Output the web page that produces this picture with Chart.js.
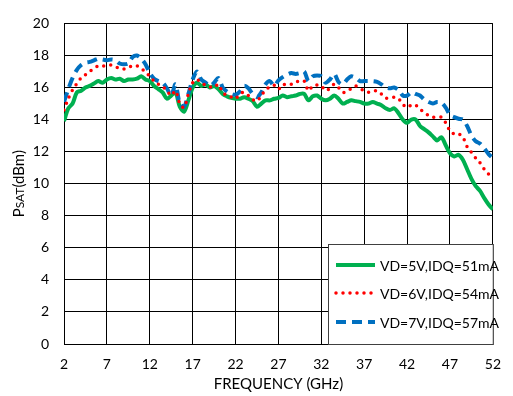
<!DOCTYPE html>
<html>
<head>
<meta charset="utf-8">
<script src="https://cdn.jsdelivr.net/npm/chart.js@4.4.1/dist/chart.umd.min.js"></script>
<style>
  html, body { margin: 0; padding: 0; background: #fff; }
  #wrap { width: 513px; height: 396px; position: relative; }
</style>
</head>
<body>
<div id="wrap"><canvas id="psat"></canvas></div>
<script>
// frequency points (GHz)
const freqGHz = [
  2, 2.5, 3, 3.5, 4, 4.5, 5, 5.5, 6, 6.5, 7, 7.5, 8, 8.5, 9, 9.5, 10, 10.5, 11, 11.5,
  12, 12.5, 13, 13.5, 14, 14.5, 15, 15.5, 16, 16.5, 17, 17.5, 18, 18.5, 19, 19.5, 20, 20.5, 21, 21.5,
  22, 22.5, 23, 23.5, 24, 24.5, 25, 25.5, 26, 26.5, 27, 27.5, 28, 28.5, 29, 29.5, 30, 30.5, 31, 31.5,
  32, 32.5, 33, 33.5, 34, 34.5, 35, 35.5, 36, 36.5, 37, 37.5, 38, 38.5, 39, 39.5, 40, 40.5, 41, 41.5,
  42, 42.5, 43, 43.5, 44, 44.5, 45, 45.5, 46, 46.5, 47, 47.5, 48, 48.5, 49, 49.5, 50, 50.5, 51, 51.5, 52
];

// saturated output power (dBm)
const psat5V = [
  13.9, 14.7, 15.0, 15.7, 15.8, 16.0, 16.1, 16.25, 16.4, 16.3, 16.5, 16.6, 16.5, 16.55, 16.4, 16.5, 16.5, 16.55, 16.7, 16.5,
  16.4, 16.1, 15.9, 15.7, 15.3, 15.5, 15.7, 14.8, 14.5, 15.2, 16.0, 16.3, 16.1, 16.2, 16.0, 16.1, 15.9, 15.6, 15.45, 15.35,
  15.3, 15.3, 15.4, 15.3, 15.15, 14.8, 15.0, 15.2, 15.2, 15.3, 15.35, 15.5, 15.4, 15.45, 15.5, 15.6, 15.6, 15.2, 15.45, 15.5,
  15.3, 15.2, 15.3, 15.5, 15.3, 15.0, 15.1, 15.2, 15.15, 15.1, 15.0, 15.0, 15.1, 15.0, 14.9, 14.7, 14.6, 14.7, 14.4, 14.0,
  13.8, 14.0, 14.0, 13.6, 13.4, 13.2, 12.95, 12.7, 12.9, 12.4, 11.9, 11.7, 11.8, 11.5, 10.9, 10.3, 9.85, 9.55, 9.1, 8.7, 8.4
];
const psat6V = [
  14.6, 15.3, 15.85, 16.25, 16.6, 16.8, 17.0, 17.2, 17.35, 17.35, 17.35, 17.4, 17.3, 17.2, 17.15, 17.25, 17.35, 17.35, 17.2, 16.95,
  16.7, 16.4, 16.2, 16.05, 15.8, 15.5, 15.8, 15.0, 14.75, 15.6, 16.3, 16.5, 16.3, 16.15, 16.05, 16.0, 16.2, 15.7, 15.5, 15.4,
  15.3, 15.6, 15.7, 15.5, 15.25, 15.15, 15.5, 15.85, 16.05, 16.15, 15.9, 16.2, 16.15, 16.2, 16.35, 16.4, 16.4, 15.8, 16.1, 16.15,
  16.1, 15.8, 15.95, 16.2, 16.0, 15.7, 15.75, 15.95, 16.1, 15.95, 15.8, 15.7, 15.75, 15.8, 15.6, 15.35, 15.35, 15.4, 15.3, 14.95,
  14.75, 14.9, 14.9, 14.65, 14.45, 14.25, 14.15, 14.15, 14.15, 13.8, 13.3, 13.1, 13.1, 12.9, 12.3, 11.95, 11.6, 11.3, 10.9, 10.6, 10.4
];
const psat7V = [
  15.1, 15.9, 16.6, 17.1, 17.4, 17.55, 17.6, 17.7, 17.8, 17.75, 17.7, 17.75, 17.7, 17.5, 17.45, 17.5, 17.9, 18.0, 17.8, 17.45,
  16.9, 16.55, 16.4, 16.3, 15.95, 15.5, 16.2, 15.0, 14.8, 15.6, 16.5, 17.0, 16.5, 16.3, 16.1, 16.3, 16.6, 16.0, 15.75, 15.6,
  15.55, 15.75, 16.1, 15.95, 15.6, 15.4, 15.7, 16.2, 16.4, 16.1, 16.45, 16.65, 16.8, 16.9, 16.85, 16.9, 17.0, 16.4, 16.7, 16.75,
  16.7, 16.3, 16.5, 16.85, 16.35, 16.2, 16.5, 16.7, 16.6, 16.4, 16.4, 16.4, 16.4, 16.35, 16.2, 16.0, 15.95, 16.0, 15.85, 15.5,
  15.5, 15.7, 15.6, 15.5, 15.25, 15.1, 15.0, 15.1, 15.05, 14.75, 14.3, 14.15, 14.05, 14.0, 13.6, 13.0, 12.65, 12.5, 12.2, 11.85, 11.6
];

const seriesLabels = ['VD=5V,IDQ=51mA', 'VD=6V,IDQ=54mA', 'VD=7V,IDQ=57mA'];
const xTicks = [2, 7, 12, 17, 22, 27, 32, 37, 42, 47, 52];
const yTicks = [0, 2, 4, 6, 8, 10, 12, 14, 16, 18, 20];

const FONT = 'Lato, "Open Sans", sans-serif';
const GREEN = '#00B050', RED = '#FF0000', BLUE = '#0070C0';

function pts(ys) {
  return freqGHz.map((f, i) => ({ x: f, y: ys[i] }));
}

// axis titles, with small caps for the SAT subscript
const axisTitles = {
  id: 'axisTitles',
  afterDraw(chart) {
    const ctx = chart.ctx, a = chart.chartArea;
    ctx.save();
    ctx.fillStyle = '#000';
    ctx.textBaseline = 'alphabetic';
    ctx.font = '15px ' + FONT;
    ctx.textAlign = 'center';
    ctx.fillText('FREQUENCY (GHz)', (a.left + a.right) / 2, 389);

    ctx.translate(24, (a.top + a.bottom) / 2);
    ctx.rotate(-Math.PI / 2);
    const parts = [['P', '15px '], ['SAT', '12px '], ['(dBm)', '15px ']];
    let w = 0;
    parts.forEach(p => { ctx.font = p[1] + FONT; w += ctx.measureText(p[0]).width; });
    let x = -w / 2;
    ctx.textAlign = 'left';
    parts.forEach(p => {
      ctx.font = p[1] + FONT;
      ctx.fillText(p[0], x, 0);
      x += ctx.measureText(p[0]).width;
    });
    ctx.restore();
  }
};

// legend box in the lower right corner of the plot
const boxLegend = {
  id: 'boxLegend',
  afterDraw(chart) {
    const ctx = chart.ctx, a = chart.chartArea;
    const bx = 328, by = 244, bw = a.right - bx, bh = a.bottom - by;
    ctx.save();
    ctx.fillStyle = '#fff';
    ctx.fillRect(bx, by, bw, bh);
    ctx.strokeStyle = '#404040';
    ctx.lineWidth = 1;
    ctx.strokeRect(bx + 0.5, by + 0.5, bw, bh);
    const order = [0, 1, 2];
    const rows = [265, 293, 322];
    order.forEach((di, r) => {
      const ds = chart.data.datasets[di];
      const y = rows[r];
      ctx.beginPath();
      ctx.strokeStyle = ds.borderColor;
      ctx.lineWidth = ds.borderWidth;
      ctx.lineCap = ds.borderCapStyle || 'butt';
      ctx.setLineDash(ds.borderDash || []);
      ctx.moveTo(336, y);
      ctx.lineTo(375, y);
      ctx.stroke();
      ctx.setLineDash([]);
      ctx.fillStyle = '#000';
      ctx.font = '14px ' + FONT;
      ctx.textAlign = 'left';
      ctx.textBaseline = 'middle';
      ctx.fillText(ds.label, 380, y + 1);
    });
    ctx.restore();
  }
};

new Chart(document.getElementById('psat'), {
  type: 'line',
  data: {
    datasets: [
      { label: seriesLabels[0], data: pts(psat5V), borderColor: GREEN, borderWidth: 4,
        order: 3, borderJoinStyle: 'round' },
      { label: seriesLabels[1], data: pts(psat6V), borderColor: RED, borderWidth: 3.5,
        borderDash: [0, 7], borderCapStyle: 'round', order: 1 },
      { label: seriesLabels[2], data: pts(psat7V), borderColor: BLUE, borderWidth: 4,
        borderDash: [10, 6], order: 2 }
    ]
  },
  options: {
    responsive: true,
    maintainAspectRatio: false,
    animation: false,
    layout: { padding: { top: 12, right: 9, left: 0, bottom: 0 } },
    elements: { point: { radius: 0 }, line: { tension: 0.3, fill: false } },
    plugins: { legend: { display: false }, tooltip: { enabled: false } },
    scales: {
      x: {
        type: 'linear', min: 2, max: 52,
        afterBuildTicks(s) { s.ticks = xTicks.map(v => ({ value: v })); },
        afterFit(s) { s.height = 52; },
        grid: { color: '#000', lineWidth: 1, drawTicks: false },
        border: { color: '#000' },
        ticks: { color: '#000', font: { family: FONT, size: 14 }, padding: 12, maxRotation: 0 }
      },
      y: {
        min: 0, max: 20,
        afterBuildTicks(s) { s.ticks = yTicks.map(v => ({ value: v })); },
        afterFit(s) { s.width = 64; },
        grid: { color: '#000', lineWidth: 1, drawTicks: false },
        border: { color: '#000' },
        ticks: { color: '#000', font: { family: FONT, size: 14 }, padding: 15 }
      }
    }
  },
  plugins: [axisTitles, boxLegend]
});
</script>
</body>
</html>
